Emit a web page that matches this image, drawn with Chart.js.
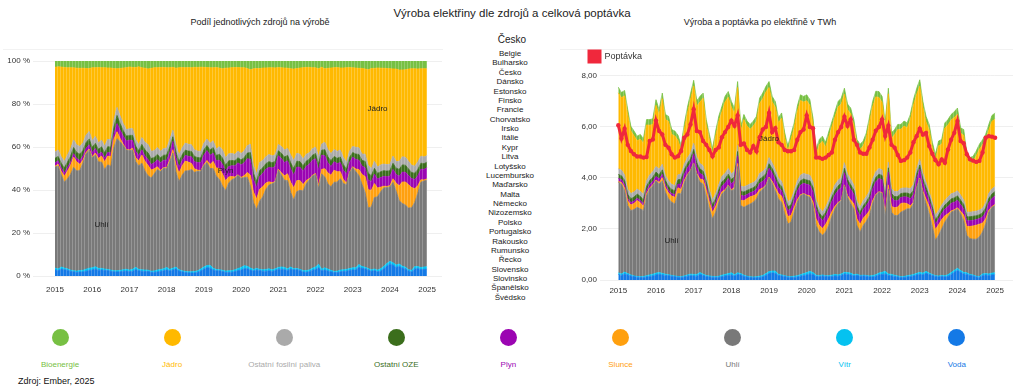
<!DOCTYPE html>
<html lang="cs">
<head>
<meta charset="utf-8">
<title>Výroba elektřiny dle zdrojů a celková poptávka</title>
<script src="https://cdn.jsdelivr.net/npm/chart.js@4.4.1/dist/chart.umd.min.js"></script>
<style>
  body { margin:0; width:1024px; height:391px; background:#fff; font-family:"Liberation Sans", Arial, sans-serif; color:#222; position:relative; overflow:hidden; }
  .abs { position:absolute; }
  #title { left:0; top:7px; width:1024px; text-align:center; font-size:11.5px; }
  #country { left:0; top:34px; width:1024px; text-align:center; font-size:10px; }
  .subtitle { top:17px; text-align:center; font-size:9px; color:#222; }
  #list { left:460px; top:49px; width:100px; text-align:center; font-size:8px; line-height:9.38px; }
  .hr { top:49px; height:1px; background:#f2f2f2; }
  .item { top:329px; width:110px; margin-left:-55px; text-align:center; font-size:8px; line-height:10px; }
  .dot { width:17px; height:17px; border-radius:50%; margin:0 auto 14px; }
  #source { left:18px; top:376px; font-size:9px; color:#111; }
</style>
</head>
<body>
<div class="abs hr" style="left:3px;width:440px"></div>
<div class="abs hr" style="left:560px;width:453px"></div>
<div id="title" class="abs">Výroba elektřiny dle zdrojů a celková poptávka</div>
<div id="country" class="abs">Česko</div>
<div class="abs subtitle" style="left:0;width:520px">Podíl jednotlivých zdrojů na výrobě</div>
<div class="abs subtitle" style="left:560px;width:400px">Výroba a poptávka po elektřině v TWh</div>
<div id="list" class="abs"></div>
<canvas id="shareChart" class="abs" width="490" height="300" style="left:0;top:0"></canvas>
<canvas id="twhChart" class="abs" width="464" height="300" style="left:560px;top:0"></canvas>
<div id="legend"></div>
<div id="source" class="abs">Zdroj: Ember, 2025</div>

<script>
// měsíční hodnoty v TWh, leden 2015 až leden 2025
const yearLabels = ['2015', '2016', '2017', '2018', '2019', '2020', '2021', '2022', '2023', '2024', '2025'];

const voda = [
  .22, .18, .24, .20, .16, .13, .11, .10, .10, .12, .14, .16,
  .20, .22, .20, .18, .17, .15, .13, .11, .10, .12, .15, .17,
  .16, .15, .22, .18, .14, .12, .11, .10, .11, .13, .16, .18,
  .20, .16, .22, .20, .15, .12, .10, .09, .09, .10, .13, .18,
  .25, .28, .26, .18, .16, .14, .11, .10, .10, .12, .15, .18,
  .20, .24, .22, .14, .13, .16, .14, .13, .14, .16, .15, .18,
  .24, .22, .20, .16, .18, .15, .16, .15, .12, .12, .15, .20,
  .22, .24, .18, .16, .14, .12, .10, .10, .12, .14, .16, .20,
  .22, .20, .26, .22, .18, .14, .12, .14, .12, .14, .22, .30,
  .38, .30, .24, .22, .18, .16, .12, .10, .18, .20, .18, .20,
  .21
];
const vitr = [
  .06, .06, .07, .05, .04, .03, .03, .03, .04, .05, .06, .07,
  .07, .07, .06, .05, .04, .03, .03, .03, .03, .04, .05, .06,
  .06, .07, .07, .05, .04, .04, .03, .03, .04, .06, .06, .07,
  .08, .05, .06, .05, .04, .03, .03, .03, .04, .05, .05, .07,
  .08, .07, .09, .05, .04, .03, .03, .03, .05, .05, .06, .07,
  .09, .10, .07, .05, .04, .04, .03, .04, .05, .06, .05, .06,
  .06, .07, .07, .05, .05, .03, .03, .03, .04, .06, .06, .07,
  .08, .10, .06, .06, .05, .04, .03, .04, .05, .05, .06, .06,
  .08, .07, .08, .05, .04, .03, .04, .04, .05, .07, .07, .08,
  .08, .07, .06, .06, .04, .04, .03, .04, .06, .05, .06, .07,
  .07
];
const uhli = [
  3.55, 3.52, 3.19, 2.67, 2.52, 2.60, 2.71, 2.66, 2.58, 3.13, 3.37, 3.47,
  3.62, 3.47, 3.63, 3.21, 2.97, 2.87, 2.82, 3.25, 3.25, 3.65, 3.90, 4.05,
  4.35, 3.90, 3.54, 3.53, 3.12, 2.63, 2.26, 2.53, 2.90, 3.18, 3.28, 3.45,
  3.22, 3.36, 4.17, 2.67, 2.66, 2.77, 2.85, 2.93, 3.05, 3.29, 3.39, 3.45,
  3.67, 3.45, 3.15, 2.95, 2.85, 2.42, 2.06, 2.14, 2.51, 2.88, 3.09, 3.12,
  3.01, 2.90, 2.63, 1.95, 1.71, 1.55, 1.71, 1.97, 2.31, 2.57, 2.80, 2.87,
  3.40, 2.95, 2.73, 2.58, 1.91, 1.70, 1.95, 2.12, 2.37, 2.82, 3.10, 3.17,
  3.10, 2.19, 3.33, 2.44, 2.34, 2.37, 2.53, 2.58, 2.62, 2.60, 2.78, 3.34,
  3.66, 3.13, 2.66, 2.33, 1.88, 1.39, 1.59, 1.83, 2.10, 2.25, 2.37, 2.34,
  2.33, 2.23, 2.03, 1.47, 1.40, 1.40, 1.45, 1.55, 1.64, 1.95, 2.42, 2.58,
  2.64
];
const slunce = [
  .03, .06, .12, .18, .22, .24, .27, .24, .16, .09, .04, .03,
  .03, .06, .12, .18, .23, .24, .26, .23, .17, .09, .04, .02,
  .02, .06, .13, .17, .24, .26, .25, .22, .15, .09, .04, .02,
  .03, .07, .12, .20, .26, .27, .28, .25, .18, .11, .04, .02,
  .03, .07, .13, .21, .24, .30, .29, .26, .18, .10, .04, .02,
  .03, .06, .14, .26, .27, .27, .30, .27, .18, .10, .04, .02,
  .03, .07, .14, .20, .26, .30, .28, .26, .19, .11, .04, .02,
  .03, .08, .16, .22, .30, .33, .34, .30, .20, .12, .05, .02,
  .03, .08, .18, .28, .40, .42, .42, .36, .25, .14, .05, .03,
  .04, .10, .22, .35, .48, .52, .55, .50, .35, .20, .07, .03,
  .04
];
const plyn = [
  .12, .12, .12, .10, .10, .09, .09, .09, .10, .12, .13, .13,
  .14, .14, .14, .12, .11, .10, .10, .14, .20, .24, .26, .28,
  .36, .25, .22, .18, .15, .14, .14, .15, .18, .22, .25, .26,
  .24, .24, .30, .20, .18, .16, .16, .17, .20, .24, .26, .28,
  .35, .33, .30, .25, .22, .22, .24, .26, .30, .34, .38, .40,
  .42, .42, .40, .38, .32, .30, .32, .36, .40, .45, .48, .50,
  .48, .46, .42, .38, .34, .32, .34, .36, .40, .46, .50, .52,
  .50, .45, .50, .35, .28, .25, .24, .24, .26, .28, .30, .35,
  .35, .32, .28, .24, .22, .22, .22, .24, .26, .28, .30, .30,
  .30, .26, .24, .22, .22, .22, .22, .22, .24, .26, .30, .32,
  .34
];
const ostatniOze = [
  .16, .15, .16, .16, .15, .16, .16, .16, .16, .16, .16, .17,
  .17, .16, .17, .16, .16, .16, .16, .17, .20, .18, .17, .17,
  .17, .17, .17, .16, .16, .16, .16, .16, .16, .17, .17, .17,
  .17, .17, .17, .16, .16, .16, .15, .15, .16, .17, .17, .17,
  .18, .17, .17, .16, .16, .16, .15, .15, .16, .17, .17, .17,
  .17, .17, .17, .16, .16, .16, .15, .15, .16, .17, .17, .17,
  .17, .17, .17, .16, .16, .16, .15, .15, .16, .17, .17, .17,
  .17, .17, .17, .16, .16, .16, .15, .15, .16, .17, .17, .17,
  .17, .17, .17, .16, .16, .16, .15, .15, .16, .17, .17, .17,
  .17, .17, .17, .16, .16, .16, .15, .15, .16, .17, .17, .17,
  .17
];
const ostatniFosilni = [
  .22, .22, .22, .20, .20, .20, .20, .20, .20, .22, .22, .22,
  .22, .22, .22, .20, .20, .20, .20, .20, .20, .22, .22, .22,
  .24, .22, .22, .21, .20, .20, .20, .20, .20, .22, .22, .22,
  .22, .22, .24, .20, .20, .20, .20, .20, .20, .22, .22, .22,
  .24, .22, .22, .20, .20, .20, .20, .20, .20, .22, .22, .22,
  .22, .22, .22, .20, .20, .20, .20, .20, .20, .22, .22, .22,
  .22, .22, .22, .20, .20, .20, .20, .20, .20, .22, .22, .22,
  .22, .22, .22, .20, .20, .20, .20, .20, .20, .22, .22, .22,
  .22, .22, .20, .18, .18, .18, .18, .18, .18, .20, .20, .20,
  .20, .20, .18, .18, .18, .18, .18, .18, .18, .20, .20, .20,
  .20
];
const jadro = [
  2.98, 2.84, 3.10, 2.92, 2.45, 2.21, 1.89, 2.04, 2.01, 2.19, 1.95, 1.85,
  2.40, 2.13, 2.57, 2.19, 2.34, 1.96, 1.95, 1.35, 0.95, 1.35, 1.75, 2.10,
  2.25, 2.00, 2.41, 2.65, 2.04, 1.97, 1.81, 2.25, 2.48, 2.53, 2.80, 2.80,
  2.62, 2.26, 2.27, 2.15, 2.64, 2.33, 2.14, 2.22, 2.30, 2.74, 2.85, 2.98,
  2.75, 2.39, 2.46, 2.16, 2.48, 2.11, 1.98, 2.38, 2.46, 2.72, 2.93, 2.80,
  2.89, 2.74, 2.28, 1.77, 2.48, 2.76, 2.36, 2.49, 2.56, 2.66, 2.87, 2.88,
  2.69, 2.52, 2.57, 2.35, 2.21, 2.26, 2.15, 2.31, 2.72, 2.83, 2.94, 2.79,
  2.65, 2.53, 2.68, 1.97, 2.23, 2.43, 2.32, 2.43, 2.35, 2.70, 3.11, 2.91,
  2.87, 2.58, 2.37, 2.43, 2.14, 2.19, 2.54, 2.38, 2.84, 2.83, 2.89, 2.95,
  3.00, 2.42, 2.54, 2.13, 1.94, 1.97, 2.17, 2.39, 2.49, 2.47, 2.48, 2.65,
  2.64
];
const bioenergie = [
  .22, .20, .21, .20, .19, .18, .18, .19, .19, .21, .22, .22,
  .22, .21, .22, .20, .20, .19, .19, .20, .19, .21, .22, .23,
  .22, .21, .22, .20, .20, .19, .19, .20, .20, .21, .22, .22,
  .22, .21, .23, .20, .20, .19, .19, .19, .20, .21, .22, .22,
  .23, .22, .22, .20, .20, .19, .19, .19, .20, .21, .22, .22,
  .23, .22, .22, .21, .20, .20, .19, .19, .20, .21, .22, .23,
  .23, .22, .22, .21, .20, .20, .19, .19, .20, .21, .22, .23,
  .23, .22, .22, .21, .20, .20, .19, .19, .20, .21, .22, .23,
  .25, .23, .22, .21, .20, .20, .19, .19, .20, .21, .22, .23,
  .24, .22, .22, .21, .20, .20, .19, .19, .20, .21, .22, .23,
  .24
];
const poptavka = [
  6.07, 5.55, 5.93, 5.30, 5.06, 4.93, 4.84, 4.84, 4.80, 4.82, 5.45, 5.51,
  6.25, 5.84, 5.71, 5.30, 5.19, 4.93, 4.80, 4.85, 5.06, 5.58, 5.71, 6.10,
  6.70, 5.84, 5.80, 5.45, 5.30, 5.10, 4.85, 5.10, 5.20, 5.60, 5.80, 6.00,
  6.25, 6.05, 6.45, 5.30, 5.35, 5.10, 5.00, 5.25, 5.05, 5.60, 5.90, 6.00,
  6.55, 5.80, 5.95, 5.40, 5.30, 5.10, 5.05, 5.05, 5.10, 5.50, 5.80, 5.90,
  6.45, 6.00, 5.95, 4.80, 4.80, 4.75, 4.80, 4.90, 5.00, 5.50, 5.80, 6.00,
  6.40, 6.05, 6.30, 5.50, 5.30, 5.00, 4.95, 4.95, 5.20, 5.50, 5.85, 6.00,
  6.30, 5.65, 6.05, 5.30, 5.19, 4.90, 4.67, 4.70, 4.80, 5.00, 5.40, 5.64,
  5.93, 5.70, 5.77, 5.25, 4.95, 4.70, 4.54, 4.73, 4.60, 5.12, 5.50, 5.77,
  6.23, 5.45, 5.36, 4.93, 4.73, 4.68, 4.63, 4.67, 5.00, 5.58, 5.64, 5.62,
  5.58
];

const seriesNames = ['Bioenergie', 'Jádro', 'Ostatní fosilní paliva', 'Ostatní OZE', 'Plyn', 'Slunce', 'Uhlí', 'Vítr', 'Voda'];
const seriesValues = [bioenergie, jadro, ostatniFosilni, ostatniOze, plyn, slunce, uhli, vitr, voda];
const seriesColors = ['#77c043', '#ffb900', '#aaaaaa', '#3b6e1c', '#9b05b2', '#ffa00f', '#797979', '#05c2f0', '#1479e6'];

const countries = ['Belgie', 'Bulharsko', 'Česko', 'Dánsko', 'Estonsko', 'Finsko', 'Francie', 'Chorvatsko', 'Irsko',
  'Itálie', 'Kypr', 'Litva', 'Lotyšsko', 'Lucembursko', 'Maďarsko', 'Malta', 'Německo', 'Nizozemsko', 'Polsko',
  'Portugalsko', 'Rakousko', 'Rumunsko', 'Řecko', 'Slovensko', 'Slovinsko', 'Španělsko', 'Švédsko'];

document.getElementById('list').innerHTML = countries.map(c => '<div>' + c + '</div>').join('');

const legend = document.getElementById('legend');
seriesNames.forEach((name, k) => {
  const el = document.createElement('div');
  el.className = 'abs item';
  el.style.left = (60 + k * 112.1) + 'px';
  el.style.color = seriesColors[k];
  el.innerHTML = '<div class="dot" style="background:' + seriesColors[k] + '"></div>' + name;
  legend.appendChild(el);
});

const FONT = '"Liberation Sans", Arial, sans-serif';
Chart.defaults.font.family = FONT;
Chart.defaults.color = '#333';

const yearTicks = yearLabels.map((_, k) => k * 12);
const totals = poptavka.map((_, i) => seriesValues.reduce((s, arr) => s + arr[i], 0));

function points(arr) {
  return arr.map((v, i) => ({ x: i, y: v }));
}

function stackSets(share) {
  // od spodu: Voda ... Bioenergie, plochy na sebe navazují
  return seriesNames.map((name, k) => ({
    type: 'line',
    label: name,
    data: points(share ? seriesValues[k].map((v, i) => v / totals[i] * 100) : seriesValues[k]),
    backgroundColor: seriesColors[k],
    borderColor: seriesColors[k],
    borderWidth: 0.8,
    pointRadius: 0,
    tension: 0,
    stack: 'zdroje'
  })).reverse().map((ds, k) => Object.assign(ds, { fill: k === 0 ? 'origin' : '-1' }));
}

// popisky uvnitř ploch + jemné svislé pruhy po měsících
const bandLabels = {
  id: 'bandLabels',
  afterDatasetDraw(chart, args) {
    if (args.index !== 0) return;
    const { ctx, chartArea, scales: { x } } = chart;
    ctx.save();
    ctx.strokeStyle = 'rgba(255,255,255,0.22)';
    ctx.lineWidth = 1;
    ctx.beginPath();
    for (let i = 0; i < poptavka.length - 1; i++) {
      const px = Math.round(x.getPixelForValue(i + 0.5)) + 0.5;
      ctx.moveTo(px, chartArea.top);
      ctx.lineTo(px, chartArea.bottom);
    }
    ctx.stroke();
    ctx.restore();
  },
  afterDatasetsDraw(chart, args, opts) {
    const { ctx, scales: { x, y } } = chart;
    ctx.save();
    ctx.font = '8px ' + FONT;
    ctx.fillStyle = '#222';
    ctx.textAlign = 'center';
    ctx.textBaseline = 'middle';
    opts.items.forEach(it => ctx.fillText(it.text, x.getPixelForValue(it.at), y.getPixelForValue(it.value)));
    ctx.restore();
  }
};

function xAxis(min, max, height, pad) {
  return {
    type: 'linear', min: min, max: max, offset: false,
    grid: { display: false, drawTicks: false }, border: { display: false },
    afterBuildTicks: s => { s.ticks = yearTicks.map(v => ({ value: v })); },
    afterFit: s => { s.height = height; },
    ticks: { padding: pad, font: { size: 8 }, color: '#333', callback: v => yearLabels[v / 12] }
  };
}

new Chart(document.getElementById('shareChart'), {
  type: 'line',
  data: { datasets: stackSets(true) },
  plugins: [bandLabels],
  options: {
    responsive: false,
    animation: false,
    layout: { padding: { top: 61, right: 48, bottom: 0, left: 0 } },
    plugins: {
      legend: { display: false },
      tooltip: { enabled: false },
      bandLabels: { items: [
        { text: 'Uhlí', at: 15, value: 24 },
        { text: 'Plyn', at: 55, value: 49 },
        { text: 'Jádro', at: 104, value: 78 }
      ] }
    },
    scales: {
      x: xAxis(-7.1, 124.8, 24, 9),
      y: {
        stacked: true, min: 0, max: 100,
        grid: { color: '#efefef', drawTicks: false }, border: { display: false },
        afterFit: s => { s.width = 33; },
        ticks: { stepSize: 20, padding: 3, font: { size: 8 }, color: '#333', callback: v => v + ' %' }
      }
    }
  }
});

const twhSets = stackSets(false);
twhSets.push({
  type: 'line',
  label: 'Poptávka',
  data: points(poptavka),
  borderColor: '#f0283c',
  backgroundColor: '#f0283c',
  borderWidth: 3,
  pointRadius: 2.2,
  pointBackgroundColor: '#f0283c',
  pointBorderWidth: 0,
  tension: 0,
  fill: false,
  stack: 'poptavka',
  order: -1
});

new Chart(document.getElementById('twhChart'), {
  type: 'line',
  data: { datasets: twhSets },
  plugins: [bandLabels],
  options: {
    responsive: false,
    animation: false,
    layout: { padding: { top: 22, right: 11, bottom: 0, left: 0 } },
    plugins: {
      legend: {
        display: true, position: 'top', align: 'start',
        labels: {
          boxWidth: 11, boxHeight: 11, padding: 29, color: '#333', font: { size: 9 },
          filter: item => item.text === 'Poptávka'
        }
      },
      tooltip: { enabled: false },
      bandLabels: { items: [
        { text: 'Uhlí', at: 17, value: 1.55 },
        { text: 'Jádro', at: 48, value: 5.55 }
      ] }
    },
    scales: {
      x: xAxis(-5.83, 125.7, 20, 6),
      y: {
        stacked: true, min: 0, max: 8.156,
        grid: { color: '#efefef', drawTicks: false }, border: { display: false },
        afterBuildTicks: s => { s.ticks = [0, 2, 4, 6, 8].map(v => ({ value: v })); },
        afterFit: s => { s.width = 40; },
        ticks: { padding: 3, font: { size: 8 }, color: '#333', callback: v => v.toFixed(2).replace('.', ',') }
      }
    }
  }
});
</script>
</body>
</html>
